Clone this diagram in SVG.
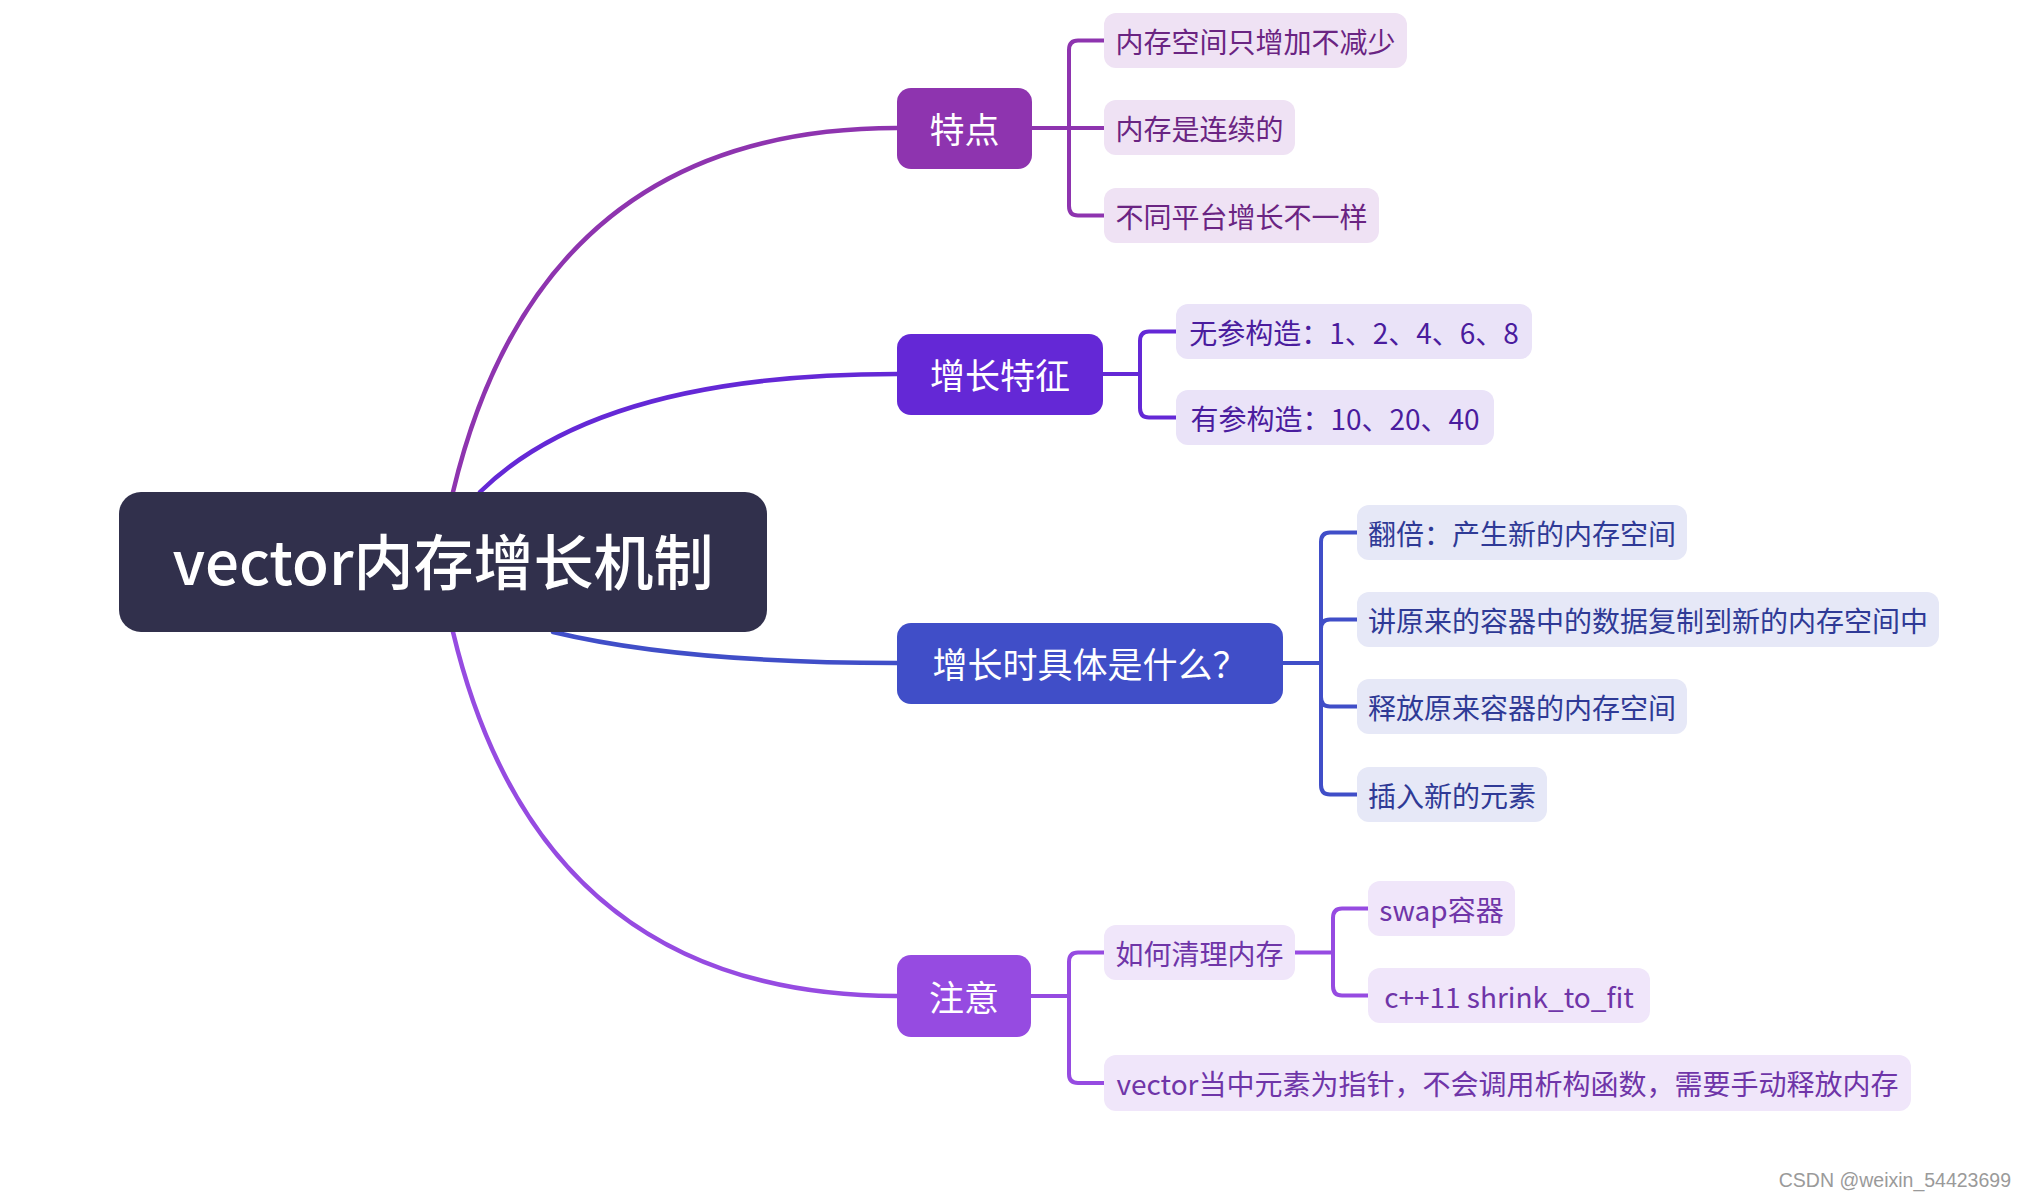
<svg xmlns="http://www.w3.org/2000/svg" width="2026" height="1200" viewBox="0 0 2026 1200">
<style>
text{font-family:"Noto Sans CJK SC","Noto Sans",sans-serif;}
.main{fill:none;stroke-width:4.5;stroke-linecap:round;}
.br{fill:none;stroke-width:4;stroke-linejoin:round;}
.top{font-size:35px;fill:#ffffff;text-anchor:middle;}
.sub{font-size:28px;text-anchor:middle;}
.c1{stroke:#8E34AF;} .c2{stroke:#6428D6;} .c3{stroke:#404EC8;} .c4{stroke:#964BE1;}
.f1{fill:#8E34AF;} .f2{fill:#6428D6;} .f3{fill:#404EC8;} .f4{fill:#964BE1;}
.l1{fill:#EFE2F4;} .l2{fill:#EAE3F8;} .l3{fill:#E6E8F7;} .l4{fill:#F0E6FA;}
.t1{fill:#6A2482;} .t2{fill:#4A1C9E;} .t3{fill:#2F3A96;} .t4{fill:#6F35A8;}
</style>
<rect width="2026" height="1200" fill="#ffffff"/>
<g id="connectors">
  <path class="main c1" d="M453,492 Q540,128 897,128"/>
  <path class="main c2" d="M480,492 Q600,374 897,374"/>
  <path class="main c3" d="M553,632 Q682,663 897,663"/>
  <path class="main c4" d="M453,632 Q540,996 897,996"/>
  <path class="br c1" d="M1032,128 H1104 M1069,128 V50 Q1069,40.5 1078,40.5 H1104 M1069,128 V206 Q1069,215.5 1078,215.5 H1104"/>
  <path class="br c2" d="M1103,374 H1140 V341 Q1140,331.5 1149,331.5 H1176 M1140,374 V408 Q1140,417.5 1149,417.5 H1176"/>
  <path class="br c3" d="M1283,663 H1321 M1321,663 V542 Q1321,532.5 1330,532.5 H1357 M1321,663 V629 Q1321,619.5 1330,619.5 H1357 M1321,663 V697 Q1321,706.5 1330,706.5 H1357 M1321,663 V785 Q1321,794.5 1330,794.5 H1357"/>
  <path class="br c4" d="M1031,996 H1069 V962 Q1069,952.5 1078,952.5 H1104 M1069,996 V1074 Q1069,1083 1078,1083 H1104"/>
  <path class="br c4" d="M1295,952.5 H1333 V918 Q1333,908.5 1342,908.5 H1368 M1333,952.5 V986 Q1333,995.5 1342,995.5 H1368"/>
</g>
<g id="root">
  <rect x="119" y="492" width="648" height="140" rx="22" fill="#31304C"/>
  <text x="443" y="585" font-size="60" font-weight="500" fill="#ffffff" text-anchor="middle">vector内存增长机制</text>
</g>
<g id="n-tedian">
  <rect class="f1" x="897" y="88" width="135" height="81" rx="14"/>
  <text class="top" x="964.5" y="143">特点</text>
</g>
<g id="n-tedian-1">
  <rect class="l1" x="1104" y="13" width="303" height="55" rx="12"/>
  <text class="sub t1" x="1255.5" y="52.5">内存空间只增加不减少</text>
</g>
<g id="n-tedian-2">
  <rect class="l1" x="1104" y="100" width="191" height="55" rx="12"/>
  <text class="sub t1" x="1199.5" y="139.5">内存是连续的</text>
</g>
<g id="n-tedian-3">
  <rect class="l1" x="1104" y="188" width="275" height="55" rx="12"/>
  <text class="sub t1" x="1241.5" y="227.5">不同平台增长不一样</text>
</g>
<g id="n-zengzhang">
  <rect class="f2" x="897" y="334" width="206" height="81" rx="14"/>
  <text class="top" x="1000" y="389">增长特征</text>
</g>
<g id="n-zengzhang-1">
  <rect class="l2" x="1176" y="304" width="356" height="55" rx="12"/>
  <text class="sub t2" x="1354" y="343.5">无参构造：1、2、4、6、8</text>
</g>
<g id="n-zengzhang-2">
  <rect class="l2" x="1176" y="390" width="318" height="55" rx="12"/>
  <text class="sub t2" x="1335" y="429.5">有参构造：10、20、40</text>
</g>
<g id="n-juti">
  <rect class="f3" x="897" y="623" width="386" height="81" rx="14"/>
  <text class="top" x="1090" y="678">增长时具体是什么？</text>
</g>
<g id="n-juti-1">
  <rect class="l3" x="1357" y="505" width="330" height="55" rx="12"/>
  <text class="sub t3" x="1522" y="544.5">翻倍：产生新的内存空间</text>
</g>
<g id="n-juti-2">
  <rect class="l3" x="1357" y="592" width="582" height="55" rx="12"/>
  <text class="sub t3" x="1648" y="631.5">讲原来的容器中的数据复制到新的内存空间中</text>
</g>
<g id="n-juti-3">
  <rect class="l3" x="1357" y="679" width="330" height="55" rx="12"/>
  <text class="sub t3" x="1522" y="718.5">释放原来容器的内存空间</text>
</g>
<g id="n-juti-4">
  <rect class="l3" x="1357" y="767" width="190" height="55" rx="12"/>
  <text class="sub t3" x="1452" y="806.5">插入新的元素</text>
</g>
<g id="n-zhuyi">
  <rect class="f4" x="897" y="955" width="134" height="82" rx="14"/>
  <text class="top" x="964" y="1011">注意</text>
</g>
<g id="n-zhuyi-1">
  <rect class="l4" x="1104" y="925" width="191" height="55" rx="12"/>
  <text class="sub t4" x="1199.5" y="964.5">如何清理内存</text>
</g>
<g id="n-zhuyi-1-1">
  <rect class="l4" x="1368" y="881" width="147" height="55" rx="12"/>
  <text class="sub t4" x="1441.5" y="920.5">swap容器</text>
</g>
<g id="n-zhuyi-1-2">
  <rect class="l4" x="1368" y="968" width="282" height="55" rx="12"/>
  <text class="sub t4" x="1509" y="1007.5">c++11 shrink_to_fit</text>
</g>
<g id="n-zhuyi-2">
  <rect class="l4" x="1104" y="1055" width="807" height="56" rx="12"/>
  <text class="sub t4" x="1507.5" y="1095">vector当中元素为指针，不会调用析构函数，需要手动释放内存</text>
</g>
<text x="2011" y="1187" font-size="19.5" fill="#9a9a9a" text-anchor="end" style="font-family:'Liberation Sans',Arial,sans-serif">CSDN @weixin_54423699</text>
</svg>
